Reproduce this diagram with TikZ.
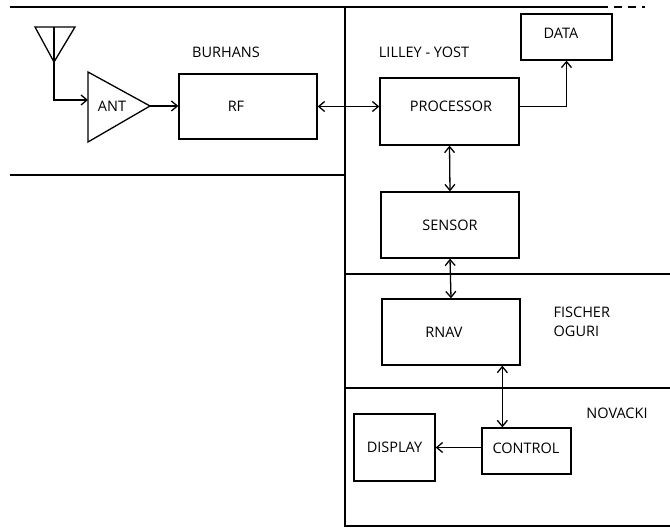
\documentclass[tikz,border=0pt]{standalone}
\usepackage{fontspec}
\setmainfont{Open Sans}
\usetikzlibrary{arrows.meta}
\begin{document}
\begin{tikzpicture}[x=1pt,y=-1pt,
  line width=1.3pt,
  box/.style={draw,rectangle,inner sep=0pt,font=\fontsize{14.5}{17}\selectfont},
  lbl/.style={inner sep=0pt,font=\fontsize{14.5}{19}\selectfont},
  arr/.style={-{Straight Barb[length=6pt,width=10pt]}},
  darr/.style={{Straight Barb[length=6pt,width=10pt]}-{Straight Barb[length=6pt,width=10pt]}},
  part/.style={line width=1.2pt}]
\useasboundingbox (0,0) rectangle (670,529);
% partitions
\draw[part] (10,7) -- (600,7);
\draw[part,dash pattern=on 8pt off 6pt] (600,7) -- (645,7);
\draw[part] (10,175) -- (345,175);
\draw[part] (345,7) -- (345,526) -- (670,526);
\draw[part] (345,274) -- (670,274);
\draw[part] (345,388) -- (670,388);
% labels
\node[lbl] (burhans) at (226,52) {BURHANS};
\node[lbl] (lilley) at (424,52) {LILLEY - YOST};
\node[lbl,anchor=west,align=left] (fischer) at (553,322) {FISCHER\\OGURI};
\node[lbl] (novacki) at (617,413) {NOVACKI};
% antenna
\coordinate (antTL) at (35,27);
\coordinate (antTR) at (75,27);
\coordinate (antTip) at (54,62);
\coordinate (antTop) at (54,27);
\draw (antTL) -- (antTR) -- (antTip) -- cycle;
\coordinate (feed) at (54,100);
% amplifier triangle
\coordinate (ampT) at (88,72);
\coordinate (ampB) at (88,142);
\coordinate (ampApex) at (150,106);
\coordinate (ampIn) at (88,100);
\draw (ampT) -- (ampApex) -- (ampB) -- cycle;
\node[lbl] (ANT) at (112,106) {ANT};
% boxes
\node[box,minimum width=138pt,minimum height=65pt] (RF) at (248,106.5) {};
\node[lbl] (rftext) at (236,106) {RF};
\node[box,minimum width=139pt,minimum height=67pt] (PROC) at (449.5,111.5) {};
\node[lbl] (proctext) at (451,106) {PROCESSOR};
\node[box,minimum width=91pt,minimum height=46pt] (DATA) at (566.5,37) {};
\node[lbl] (datatext) at (561,33) {DATA};
\node[box,minimum width=138pt,minimum height=66pt] (SENS) at (450,225) {SENSOR};
\node[box,minimum width=138pt,minimum height=66pt] (RNAV) at (451,332) {};
\node[lbl] (rnavtext) at (444,332) {RNAV};
\node[box,minimum width=89pt,minimum height=46pt] (CONT) at (526.5,451) {};
\node[lbl] (conttext) at (526,448) {CONTROL};
\node[box,minimum width=81pt,minimum height=67pt] (DISP) at (394.5,447.5) {DISPLAY};
% connectors
\draw (antTop) -- (antTip);
\draw[arr] (antTip) -- (feed) -- (ampIn);
\draw[arr] (ampApex) -- (RF.west |- ampApex);
\draw[darr] (RF.east) -- (PROC.west |- RF.east);
\draw[arr] (PROC.east |- RF.east) -| (DATA.south);
\draw[darr] (PROC.south) -- (SENS.north);
\draw[darr] (SENS.south) -- (RNAV.north);
\coordinate (rcx) at ([xshift=21pt]CONT.north west);
\draw[darr] (rcx |- RNAV.south) -- (rcx);
\draw[arr] (CONT.west |- DISP.east) -- (DISP.east);
\end{tikzpicture}
\end{document}
